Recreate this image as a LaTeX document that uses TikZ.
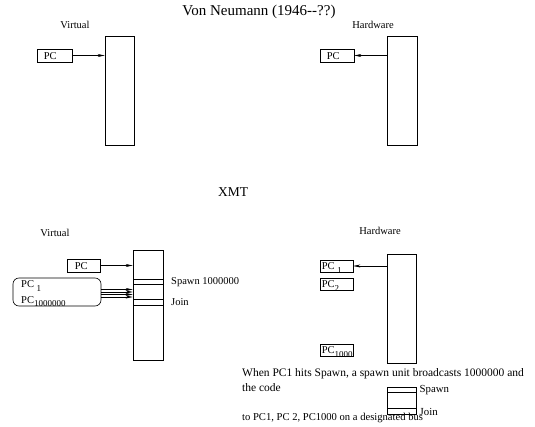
\documentclass[tikz,border=0pt]{standalone}
\usepackage{fontspec}
\setmainfont{Liberation Serif}
\usetikzlibrary{arrows.meta}

\newcommand{\pcsub}[1]{\raisebox{-3.5pt}{\fontsize{9}{10}\selectfont #1}}

\tikzset{
  membox/.style={draw, line width=0.6pt, inner sep=0pt, minimum width=30pt},
  band/.style={draw, line width=0.6pt, inner sep=0pt, minimum width=30pt},
  pcbox/.style={draw, line width=0.6pt, inner sep=0pt, minimum width=33pt, minimum height=13pt},
  pctext/.style={anchor=base west, inner sep=0pt, font=\fontsize{10.5}{12}\selectfont},
  lbl/.style={inner sep=0pt, font=\fontsize{10.5}{12}\selectfont},
  body/.style={anchor=west, inner sep=0pt, font=\fontsize{11.5}{13}\selectfont},
  link/.style={line width=0.6pt, -{Stealth[length=7pt, width=3pt]}}
}

\begin{document}
\begin{tikzpicture}[x=1pt, y=-1pt]
    \useasboundingbox (0,0) rectangle (535,427);

    % ── Von Neumann ───────────────────────────────────────────────────────────
    \node[inner sep=0pt, font=\fontsize{15}{18}\selectfont] (vntitle) at (259,12) {Von Neumann (1946-{}-??)};
    \node[lbl] (vnvirt) at (75,24.5) {Virtual};
    \node[lbl] (vnhard) at (373,24.5) {Hardware};

    % virtual side
    \node[membox, minimum width=29pt, minimum height=109pt] (vnmem) at (119.5,90.5) {};
    \node[pcbox, minimum width=35pt] (vnpc) at (54.5,55.5) {};
    \node[pctext] at ([xshift=7pt, yshift=3pt]vnpc.south west) {PC};
    \draw[link] (vnpc.east) -- (vnpc.east -| vnmem.west);

    % hardware side
    \node[membox, minimum height=109pt] (hwmem) at (402,90.5) {};
    \node[pcbox, minimum width=34pt] (hwpc) at (337,55.5) {};
    \node[pctext] at ([xshift=7pt, yshift=3pt]hwpc.south west) {PC};
    \draw[link] (hwpc.east -| hwmem.west) -- (hwpc.east);

    % ── XMT ───────────────────────────────────────────────────────────────────
    \node[inner sep=0pt, font=\fontsize{13.5}{16}\selectfont] (xmt) at (233,192) {XMT};
    \node[lbl] (xvirt) at (55,233) {Virtual};
    \node[lbl] (xhard) at (380,231) {Hardware};

    % virtual side
    \node[membox, minimum height=110pt] (xmem) at (148,305) {};
    \node[band, minimum height=5pt] (xspawn) at (148,281.5) {};
    \node[band, minimum height=6pt] (xjoin) at (148,302) {};
    \node[body, font=\fontsize{10.5}{12}\selectfont] (xspawntxt) at (171,282) {Spawn 1000000};
    \node[body, font=\fontsize{10.5}{12}\selectfont] (xjointxt) at (171,302) {Join};

    \node[pcbox] (xpc) at (83.5,265.5) {};
    \node[pctext] at ([xshift=8pt, yshift=3pt]xpc.south west) {PC};
    \draw[link] (xpc.east) -- (xpc.east -| xmem.west);

    \node[draw, line width=0.6pt, rounded corners=6pt, minimum width=88pt,
          minimum height=28pt, inner sep=0pt] (xpcs) at (57,292) {};
    \node[pctext] (xpcone) at (21,288) {PC \pcsub{1}};
    \node[pctext] (xpcmil) at (21,303.5) {PC\pcsub{1000000}};
    \foreach \yy in {289.5,292,294.5,297}
        \draw[link] (xpcs.east |- 0,\yy) -- (xmem.west |- 0,\yy);

    % hardware side
    \node[membox, minimum width=29pt, minimum height=109pt] (hxmem) at (401.5,308.5) {};
    \node[pcbox, minimum height=12pt] (hpcone) at (336.5,266) {};
    \node[pctext] at ([xshift=2pt, yshift=2.5pt]hpcone.south west) {PC \pcsub{1}};
    \node[pcbox, minimum height=12pt] (hpctwo) at (336.5,284) {};
    \node[pctext] at ([xshift=2pt, yshift=2.5pt]hpctwo.south west) {PC\pcsub{2}};
    \node[pcbox, minimum height=12pt] (hpcthou) at (336.5,350) {};
    \node[pctext] at ([xshift=2pt, yshift=2.5pt]hpcthou.south west) {PC\pcsub{1000}};
    \draw[link] (hpcone.east -| hxmem.west) -- (hpcone.east);

    % ── Broadcast note ────────────────────────────────────────────────────────
    \node[body] (notea) at (242,374) {When PC1 hits Spawn, a spawn unit broadcasts 1000000 and};
    \node[body] (noteb) at (242,387.5) {the code};
    \node[body, font=\fontsize{10.6}{12}\selectfont] (notec) at (242,418) {to PC1, PC 2, PC1000 on a designated bus};

    \node[membox, minimum width=29pt, minimum height=27pt] (smem) at (401.5,400.5) {};
    \node[band, minimum width=29pt, minimum height=5pt] (sspawn) at (401.5,389.5) {};
    \node[band, minimum width=29pt, minimum height=6pt] (sjoin) at (401.5,411) {};
    \node[body, font=\fontsize{10.8}{12}\selectfont] (sspawntxt) at (419.5,390) {Spawn};
    \node[body, font=\fontsize{10.8}{12}\selectfont] (sjointxt) at (419.5,411.5) {Join};

\end{tikzpicture}
\end{document}
